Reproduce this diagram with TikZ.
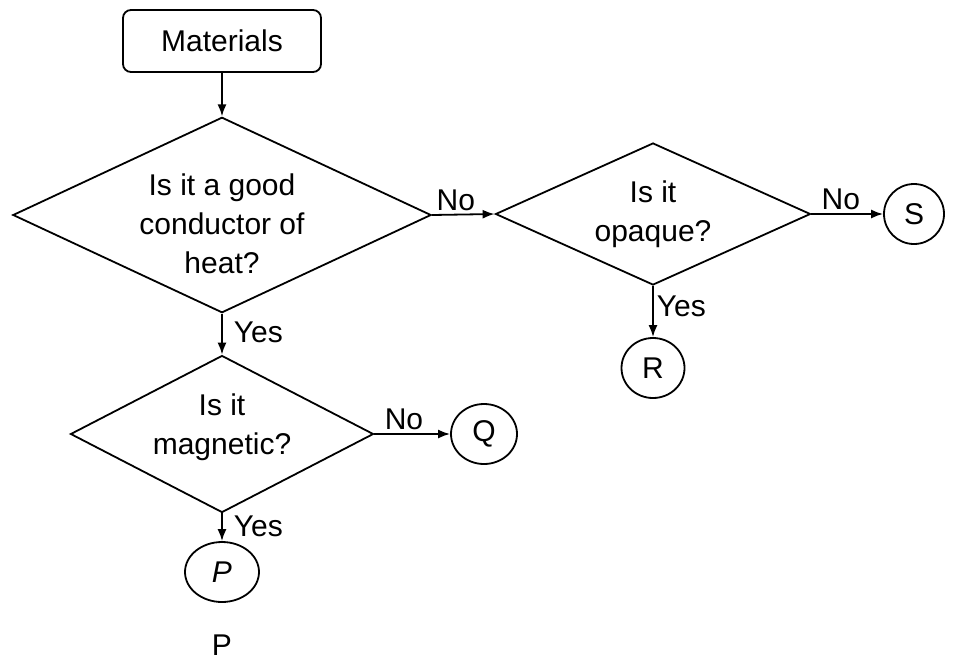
\documentclass[tikz,border=0pt]{standalone}
\usepackage{fontspec}
\setmainfont{Liberation Sans}
\usetikzlibrary{arrows.meta,shapes.geometric}

\begin{document}
\begin{tikzpicture}[x=0.5pt, y=-0.5pt, >={Latex[length=6pt,width=4.5pt]}, line width=0.9pt,
  every node/.style={font=\fontsize{15pt}{19.5pt}\selectfont},
  start/.style={draw, rounded corners=4pt, minimum width=99pt, minimum height=31pt, inner sep=0pt},
  ask/.style={draw, diamond, align=center, inner sep=0pt},
  leaf/.style={draw, ellipse, inner sep=0pt, minimum width=30pt, minimum height=30pt},
  lbl/.style={inner sep=1.5pt}]
\useasboundingbox (0,0) rectangle (953,659);
\node[start] (mat) at (222,41) {Materials};
\node[ask, aspect=2.14, minimum width=209pt, minimum height=97.5pt] (heat) at (222,215) {\rule{0pt}{20pt}Is it a good\\conductor of\\heat?};
\node[ask, aspect=2.2, minimum width=157.5pt, minimum height=71pt] (opq) at (653,214) {Is it\\opaque?};
\node[ask, aspect=1.93, minimum width=151.5pt, minimum height=78.5pt] (mag) at (222,434) {Is it\\magnetic?\rule[-10pt]{0pt}{10pt}};
\node[leaf] (s) at (914,214) {S};
\node[leaf, minimum width=31.5pt] (r) at (653,368) {R};
\node[leaf, minimum width=33pt] (q) at (484,434) {Q};
\node[leaf, minimum width=37pt] (p) at (222,572) {\itshape P};
\node (ptxt) at (222,645) {P};
\draw[->] (mat) -- (heat);
\draw[->] (heat.east) -- node[lbl, above, pos=0.38] {No} (opq.west);
\draw[->] (opq.east) -- node[lbl, above, pos=0.41] {No} (s);
\draw[->] (opq.south) -- node[lbl, right, pos=0.4] {Yes} (r);
\draw[->] (heat.south) -- node[lbl, right=4pt, pos=0.45] {Yes} (mag.north);
\draw[->] (mag.east) -- node[lbl, above, pos=0.39] {No} (q);
\draw[->] (mag.south) -- node[lbl, right=4pt, pos=0.45] {Yes} (p);
\end{tikzpicture}
\end{document}
